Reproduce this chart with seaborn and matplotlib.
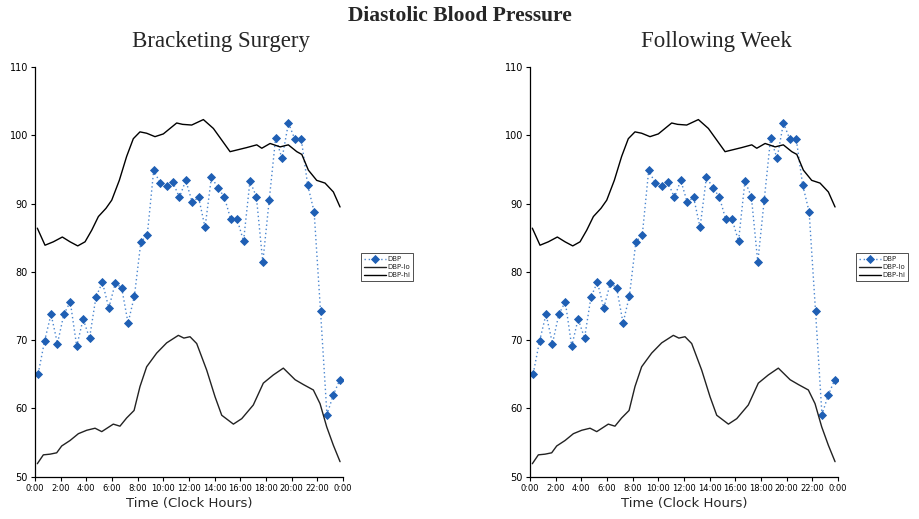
import numpy as np
import pandas as pd
import matplotlib
matplotlib.use("Agg")
import matplotlib.pyplot as plt
import seaborn as sns

# ---- data ----
dbp_hours = [0.25 + 0.5 * i for i in range(48)]
dbp_values = [65.1, 69.9, 73.8, 69.5, 73.8, 75.6, 69.1, 73.1, 70.3, 76.3, 78.5, 74.7,
              78.3, 77.7, 72.5, 76.5, 84.4, 85.4, 94.9, 93.0, 92.5, 93.1, 90.9, 93.4,
              90.2, 90.9, 86.5, 93.9, 92.3, 91.0, 87.7, 87.7, 84.5, 93.3, 91.0, 81.4,
              90.5, 99.6, 96.6, 101.8, 99.4, 99.4, 92.7, 88.8, 74.2, 59.1, 62.0, 64.2]

hi_hours = [0.18, 0.78, 1.43, 2.13, 2.73, 3.33, 3.9, 4.42, 4.94, 5.53, 5.98, 6.57, 7.14,
            7.66, 8.18, 8.7, 9.35, 10.0, 10.52, 11.04, 11.5, 12.21, 13.12, 13.9, 14.55,
            15.2, 15.85, 16.5, 17.28, 17.67, 18.32, 19.1, 19.74, 20.4, 20.79, 21.3,
            21.95, 22.6, 23.25, 23.77]
hi_values = [86.4, 83.9, 84.4, 85.1, 84.4, 83.8, 84.4, 86.1, 88.1, 89.3, 90.5, 93.4, 96.9,
             99.5, 100.5, 100.3, 99.8, 100.2, 101.0, 101.8, 101.6, 101.5, 102.3, 101.0, 99.3,
             97.6, 97.9, 98.2, 98.6, 98.1, 98.8, 98.3, 98.6, 97.6, 97.2, 94.9,
             93.4, 93.0, 91.7, 89.5]

lo_hours = [0.18, 0.65, 1.17, 1.69, 2.08, 2.73, 3.38, 4.03, 4.68, 5.2, 6.1, 6.62, 7.14,
            7.72, 8.18, 8.7, 9.48, 10.26, 11.17, 11.6, 12.08, 12.6, 13.38, 14.03, 14.55,
            15.46, 16.11, 17.01, 17.79, 18.57, 19.35, 20.27, 20.91, 21.69, 22.21, 22.73,
            23.25, 23.77]
lo_values = [51.9, 53.2, 53.3, 53.5, 54.5, 55.3, 56.3, 56.8, 57.1, 56.6, 57.7, 57.4, 58.6,
             59.7, 63.2, 66.1, 68.1, 69.6, 70.7, 70.3, 70.5, 69.5, 65.6, 61.7, 59.0,
             57.7, 58.5, 60.5, 63.7, 64.9, 65.9, 64.2, 63.5, 62.7, 60.7, 57.3,
             54.6, 52.2]

x_ticks = list(range(0, 25, 2))
x_tick_labels = ["0:00", "2:00", "4:00", "6:00", "8:00", "10:00", "12:00", "14:00",
                 "16:00", "18:00", "20:00", "22:00", "0:00"]
y_ticks = [50, 60, 70, 80, 90, 100, 110]
panel_titles = ["Bracketing Surgery", "Following Week"]

sns.set_style("white")
plt.rcParams['font.family'] = ['DejaVu Sans']

df_dbp = pd.DataFrame({"hour": dbp_hours, "value": dbp_values})
df_hi = pd.DataFrame({"hour": hi_hours, "value": hi_values})
df_lo = pd.DataFrame({"hour": lo_hours, "value": lo_values})

fig = plt.figure(figsize=(9.19, 5.19), dpi=100)
W, H = 919, 519
axes_px = [(35, 343), (530, 838)]
y_top, y_bot = 67, 476.7
blue = "#1f5fb4"

for i, (x0, x1) in enumerate(axes_px):
    ax = fig.add_axes([x0 / W, (H - y_bot) / H, (x1 - x0) / W, (y_bot - y_top) / H])
    sns.lineplot(data=df_dbp, x="hour", y="value", ax=ax, color="#4a86d0",
                 linestyle=(0, (1, 2)), linewidth=1.0, marker="D", markersize=3.6,
                 markeredgewidth=0.6, markerfacecolor=blue, markeredgecolor=blue,
                 label="DBP")
    sns.lineplot(data=df_lo, x="hour", y="value", ax=ax, color="#222222", linewidth=1.0,
                 label="DBP-lo")
    sns.lineplot(data=df_hi, x="hour", y="value", ax=ax, color="black", linewidth=1.0,
                 label="DBP-hi")
    ax.set_xlim(0, 24)
    ax.set_ylim(50, 110)
    ax.set_xticks(x_ticks)
    ax.set_xticklabels(x_tick_labels, fontsize=6)
    ax.set_yticks(y_ticks)
    ax.set_yticklabels([str(v) for v in y_ticks], fontsize=7)
    ax.tick_params(axis="both", direction="out", length=3, width=0.8, pad=2,
                   left=True, bottom=True, colors="black")
    for s in ["top", "right"]:
        ax.spines[s].set_visible(False)
    for s in ["left", "bottom"]:
        ax.spines[s].set_color("black")
        ax.spines[s].set_linewidth(0.9)
    ax.set_ylabel("")
    ax.set_xlabel("Time (Clock Hours)", fontsize=9.5, labelpad=3)
    leg = ax.legend(loc="upper left", bbox_to_anchor=(1.06, 0.545), fontsize=5,
                    frameon=True, fancybox=False, handlelength=3.2, borderpad=0.4,
                    labelspacing=0.3, handletextpad=0.1, borderaxespad=0)
    leg.get_frame().set_edgecolor("black")
    leg.get_frame().set_linewidth(0.6)
    cx = (x0 + x1) / 2 + 32
    fig.text(cx / W, 1 - 42 / H, panel_titles[i], ha="center", va="center",
             fontsize=16.5, family=["Liberation Serif"])

fig.text(0.5, 1 - 16 / H, "Diastolic Blood Pressure", ha="center", va="center",
         fontsize=15.5, fontweight="bold", family=["Liberation Serif"])

fig.savefig("out.png", dpi=100)
